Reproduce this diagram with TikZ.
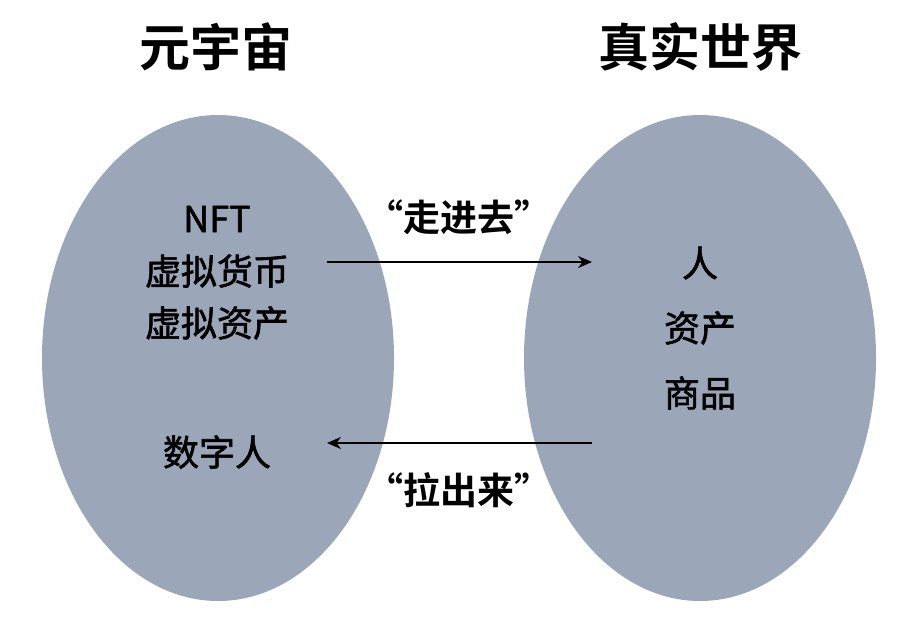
\documentclass[tikz,border=0pt]{standalone}
\usepackage{fontspec}
\setmainfont{Noto Sans CJK SC}[BoldFont={* Bold}]
\newfontfamily\medfont{Noto Sans CJK SC}[FakeBold=1.6]
\usetikzlibrary{arrows.meta,shapes.geometric}
\definecolor{ovalfill}{HTML}{9CA6B9}
\begin{document}
\begin{tikzpicture}[x=1pt,y=-1pt,
  world/.style={ellipse, fill=ovalfill, draw=none, minimum width=352pt, minimum height=486pt, inner sep=0pt},
  title/.style={font=\fontsize{51}{55}\selectfont\bfseries, inner sep=0pt},
  item/.style={font=\fontsize{36}{40}\selectfont\medfont, inner sep=0pt},
  lab/.style={font=\fontsize{37}{42}\selectfont\bfseries, inner sep=0pt},
  flow/.style={line width=1.8pt, -{Stealth[length=14pt,width=12pt]}}]
\useasboundingbox (0,0) rectangle (917,624);
\node[world] (meta) at (218,358) {};
\node[world] (real) at (700,358) {};
\node[title] (tmeta) at (216,47) {元宇宙};
\node[title] (treal) at (700,47) {真实世界};
\node[item] (nft) at (217,219) {NFT};
\node[item] (vcur) at (217,271) {虚拟货币};
\node[item] (vast) at (217,323) {虚拟资产};
\node[item] (dhum) at (217,452) {数字人};
\node[item] (ren) at (700,263) {人};
\node[item] (asset) at (700,328) {资产};
\node[item] (goods) at (700,393) {商品};
\coordinate (a1) at (327,262);
\coordinate (a2) at (592,262);
\coordinate (b1) at (592,443);
\coordinate (b2) at (327,443);
\draw[flow] (a1) -- (a2);
\draw[flow] (b1) -- (b2);
\node[lab] (lin) at (459,217) {“走进去”};
\node[lab] (lout) at (459,490) {“拉出来”};
\end{tikzpicture}
\end{document}
